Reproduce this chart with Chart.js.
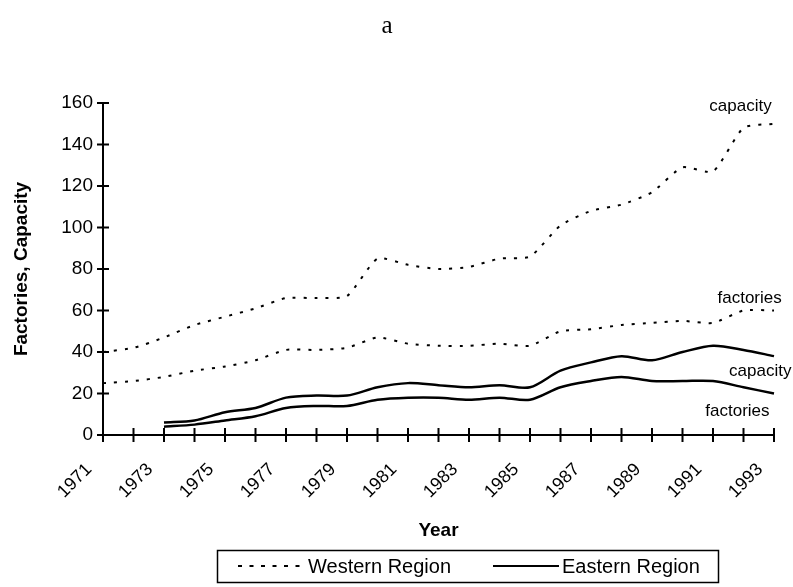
<!DOCTYPE html>
<html>
<head>
<meta charset="utf-8">
<script src="https://cdn.jsdelivr.net/npm/chart.js@4.4.1/dist/chart.umd.min.js"></script>
<style>
  body { margin: 0; background: #fff; }
</style>
</head>
<body>
<canvas id="chartFactories" width="793" height="587"></canvas>
<script>
const years = ["1971", "1972", "1973", "1974", "1975", "1976", "1977", "1978", "1979", "1980",
  "1981", "1982", "1983", "1984", "1985", "1986", "1987", "1988", "1989", "1990",
  "1991", "1992", "1993"];

const westCapacity = [40, 42, 47, 53, 57, 61, 66, 66, 67, 85, 82, 80, 81, 85, 86, 101, 108, 111, 117, 129, 127, 148, 150];
const westFactories = [25, 26, 28, 31, 33, 36, 41, 41, 42, 47, 44, 43, 43, 44, 43, 50, 51, 53, 54, 55, 54, 60, 60];
const eastCapacity = [null, null, 6, 7, 11, 13, 18, 19, 19, 23, 25, 24, 23, 24, 23, 31, 35, 38, 36, 40, 43, 41, 38];
const eastFactories = [null, null, 4, 5, 7, 9, 13, 14, 14, 17, 18, 18, 17, 18, 17, 23, 26, 28, 26, 26, 26, 23, 20];

// labels written next to the line ends: [text, category index, value]
const lineLabels = [
  ["capacity", 20.9, 158.5],
  ["factories", 21.2, 66],
  ["capacity", 21.55, 30.5],
  ["factories", 20.8, 11.5],
];

const legendItems = ["Western Region", "Eastern Region"];

const FONT = "'Liberation Sans', Arial, sans-serif";

// ticks crossing both axes, legend box and line labels
const extras = {
  id: "extras",
  afterDraw(chart) {
    const ctx = chart.ctx;
    const xs = chart.scales.x;
    const ys = chart.scales.y;
    ctx.save();

    ctx.strokeStyle = "#000";
    ctx.lineWidth = 2;
    ctx.setLineDash([]);
    ctx.beginPath();
    ys.ticks.forEach(function (t, i) {
      const py = ys.getPixelForTick(i);
      ctx.moveTo(xs.left - 6, py);
      ctx.lineTo(xs.left + 6, py);
    });
    xs.ticks.forEach(function (t, i) {
      const px = xs.getPixelForTick(i);
      ctx.moveTo(px, ys.bottom - 7);
      ctx.lineTo(px, ys.bottom + 7);
    });
    ctx.stroke();

    ctx.fillStyle = "#000";
    ctx.font = "17px " + FONT;
    ctx.textAlign = "center";
    ctx.textBaseline = "middle";
    lineLabels.forEach(function (l) {
      ctx.fillText(l[0], xs.getPixelForValue(l[1]), ys.getPixelForValue(l[2]));
    });

    // legend
    ctx.lineWidth = 1.5;
    ctx.strokeRect(217.5, 550.5, 501, 32);
    const ly = 566;
    ctx.lineWidth = 2;
    ctx.setLineDash([4, 7.5]);
    ctx.beginPath();
    ctx.moveTo(238, ly);
    ctx.lineTo(306, ly);
    ctx.stroke();
    ctx.setLineDash([]);
    ctx.beginPath();
    ctx.moveTo(493, ly);
    ctx.lineTo(559, ly);
    ctx.stroke();
    ctx.font = "20px " + FONT;
    ctx.textAlign = "left";
    ctx.fillText(legendItems[0], 308, ly + 1);
    ctx.fillText(legendItems[1], 562, ly + 1);

    ctx.restore();
  },
};

const chart = new Chart("chartFactories", {
  type: "line",
  data: {
    labels: years,
    datasets: [
      {
        label: "Western capacity",
        data: westCapacity,
        borderColor: "#000",
        borderWidth: 2,
        borderDash: [3, 8],
        tension: 0.2,
        pointRadius: 0,
        fill: false,
      },
      {
        label: "Western factories",
        data: westFactories,
        borderColor: "#000",
        borderWidth: 2,
        borderDash: [3, 8],
        tension: 0.2,
        pointRadius: 0,
        fill: false,
      },
      {
        label: "Eastern capacity",
        data: eastCapacity,
        borderColor: "#000",
        borderWidth: 2.5,
        tension: 0.3,
        pointRadius: 0,
        fill: false,
      },
      {
        label: "Eastern factories",
        data: eastFactories,
        borderColor: "#000",
        borderWidth: 2.5,
        tension: 0.3,
        pointRadius: 0,
        fill: false,
      },
    ],
  },
  options: {
    responsive: false,
    animation: false,
    layout: {
      padding: { top: 0, right: 19, bottom: 39, left: 0 },
    },
    plugins: {
      legend: { display: false },
      tooltip: { enabled: false },
      title: {
        display: true,
        text: "a",
        color: "#000",
        font: { family: "'Liberation Serif', 'Times New Roman', serif", size: 25, weight: "normal" },
        padding: { top: 11, bottom: 62 },
      },
    },
    scales: {
      x: {
        grid: { display: false, drawTicks: false },
        border: { display: true, color: "#000", width: 2 },
        afterFit: function (scale) {
          scale.height = 113;
          scale.paddingLeft = 0;
          scale.paddingRight = 0;
        },
        ticks: {
          autoSkip: false,
          minRotation: 45,
          maxRotation: 45,
          padding: 24,
          labelOffset: -14,
          color: "#000",
          font: { family: FONT, size: 18 },
          callback: function (value, index) {
            return index % 2 === 0 ? this.getLabelForValue(value) : "";
          },
        },
        title: {
          display: true,
          text: "Year",
          color: "#000",
          font: { family: FONT, size: 19, weight: "bold" },
          padding: { top: 4, bottom: 6 },
        },
      },
      y: {
        min: 0,
        max: 160,
        grid: { display: false, drawTicks: false },
        border: { display: true, color: "#000", width: 2 },
        afterFit: function (scale) {
          scale.width = 103;
        },
        ticks: {
          stepSize: 20,
          padding: 10,
          color: "#000",
          font: { family: FONT, size: 19 },
        },
        title: {
          display: true,
          text: "Factories, Capacity",
          color: "#000",
          font: { family: FONT, size: 19, weight: "bold" },
          padding: { top: 10, bottom: 0 },
        },
      },
    },
  },
  plugins: [extras],
});
</script>
</body>
</html>
